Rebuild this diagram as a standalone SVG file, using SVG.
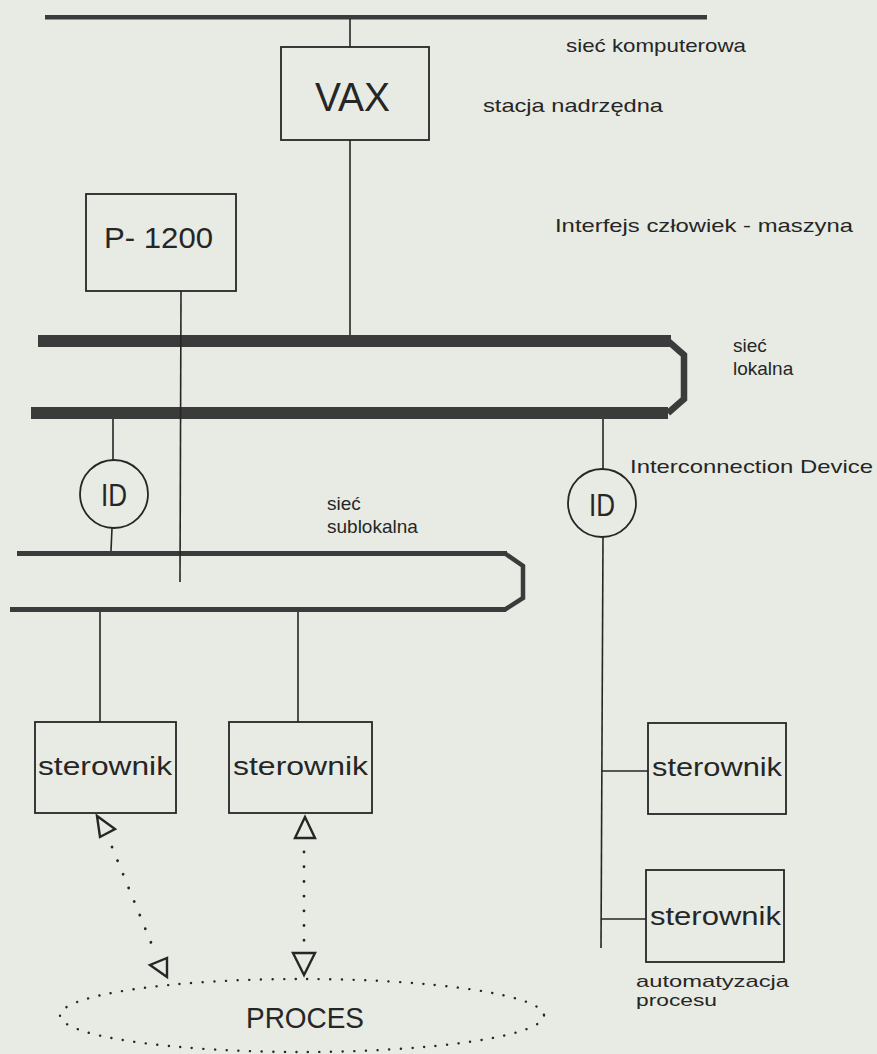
<svg xmlns="http://www.w3.org/2000/svg" width="877" height="1054" viewBox="0 0 877 1054">
<style>
.bg{fill:#e7ebe3}
.box{fill:none;stroke:#262626;stroke-width:1.8}
.ln{fill:none;stroke:#262626;stroke-width:1.6}
.bus{fill:#3b3b3b}
.side{fill:none;stroke:#3b3b3b;stroke-linejoin:miter}
.dot{fill:none;stroke:#262626;stroke-width:2.8;stroke-linecap:round;stroke-dasharray:0.1 14.6}
.edot{fill:none;stroke:#262626;stroke-width:2.4;stroke-linecap:round;stroke-dasharray:0.1 11.5}
.tri{fill:none;stroke:#262626;stroke-width:2.4;stroke-linejoin:miter}
text{font-family:"Liberation Sans",Arial,sans-serif;fill:#262626}
.lbl{font-size:19px}
.big{font-size:25px}
</style>
<rect class="bg" x="0" y="0" width="877" height="1054"/>

<g id="connectors">
  <rect class="bus" x="45" y="15" width="662" height="4.5"/>
  <rect class="bus" x="38" y="335" width="633" height="12"/>
  <rect class="bus" x="31" y="407" width="637" height="12"/>
  <path class="side" stroke-width="6.5" d="M668 341 L684 355 L684 399 L668 413"/>
  <rect class="bus" x="17" y="551" width="490" height="5"/>
  <rect class="bus" x="10" y="607" width="496" height="5"/>
  <path class="side" stroke-width="4.5" d="M505 553.5 L523 566 L523 598 L505 609.5"/>
  <line class="ln" x1="350" y1="19" x2="350" y2="47"/>
  <line class="ln" x1="350" y1="140" x2="350" y2="335"/>
  <line class="ln" x1="181" y1="291" x2="180" y2="582"/>
  <line class="ln" x1="113" y1="419" x2="113" y2="460"/>
  <line class="ln" x1="112" y1="528" x2="111" y2="551"/>
  <line class="ln" x1="603" y1="419" x2="603" y2="469"/>
  <line class="ln" x1="603" y1="537" x2="601" y2="948"/>
  <line class="ln" x1="602" y1="771" x2="648" y2="771"/>
  <line class="ln" x1="601" y1="919" x2="646" y2="919"/>
  <line class="ln" x1="100" y1="612" x2="100" y2="722"/>
  <line class="ln" x1="298" y1="612" x2="298" y2="722"/>
  <line class="dot" x1="112" y1="847" x2="154" y2="950"/>
  <line class="dot" x1="304" y1="852" x2="304" y2="942"/>
  <polygon class="tri" points="97,816 100,837 115,829"/>
  <polygon class="tri" points="167,977 150,965 167,958"/>
  <polygon class="tri" points="305,817 295,838 315,838"/>
  <polygon class="tri" points="304,975 293,953 315,953"/>
</g>

<g id="label-siec-komputerowa"><text class="lbl" x="566" y="52" textLength="180" lengthAdjust="spacingAndGlyphs">sieć komputerowa</text></g>

<g id="vax">
  <rect class="box" x="281" y="47" width="148" height="93"/>
  <text x="315" y="111" font-size="40" textLength="75" lengthAdjust="spacingAndGlyphs">VAX</text>
</g>
<g id="label-stacja"><text class="lbl" x="483" y="112" textLength="180" lengthAdjust="spacingAndGlyphs">stacja nadrzędna</text></g>

<g id="p1200">
  <rect class="box" x="86" y="194" width="150" height="97"/>
  <text x="104" y="248" font-size="30" textLength="109" lengthAdjust="spacingAndGlyphs">P-  1200</text>
</g>
<g id="label-interfejs"><text class="lbl" x="555" y="232" textLength="298" lengthAdjust="spacingAndGlyphs">Interfejs  człowiek - maszyna</text></g>

<g id="label-siec-lokalna">
  <text class="lbl" x="733" y="352">sieć</text>
  <text class="lbl" x="733" y="375">lokalna</text>
</g>

<g id="id-left">
  <circle class="box" cx="114" cy="494" r="34"/>
  <text x="101" y="506" font-size="31" textLength="26" lengthAdjust="spacingAndGlyphs">ID</text>
</g>
<g id="id-right">
  <circle class="box" cx="602" cy="503" r="34"/>
  <text x="589" y="516" font-size="31" textLength="26" lengthAdjust="spacingAndGlyphs">ID</text>
</g>
<g id="label-interconnection"><text class="lbl" x="630" y="473" textLength="243" lengthAdjust="spacingAndGlyphs">Interconnection  Device</text></g>

<g id="label-siec-sublokalna">
  <text class="lbl" x="327" y="510">sieć</text>
  <text class="lbl" x="327" y="533">sublokalna</text>
</g>

<g id="sterownik1">
  <rect class="box" x="35" y="722" width="141" height="91"/>
  <text class="big" x="38" y="775" textLength="134" lengthAdjust="spacingAndGlyphs">sterownik</text>
</g>
<g id="sterownik2">
  <rect class="box" x="229" y="722" width="143" height="91"/>
  <text class="big" x="233" y="775" textLength="135" lengthAdjust="spacingAndGlyphs">sterownik</text>
</g>
<g id="sterownik3">
  <rect class="box" x="648" y="723" width="138" height="91"/>
  <text class="big" x="652" y="776" textLength="130" lengthAdjust="spacingAndGlyphs">sterownik</text>
</g>
<g id="sterownik4">
  <rect class="box" x="646" y="870" width="138" height="92"/>
  <text class="big" x="650" y="925" textLength="131" lengthAdjust="spacingAndGlyphs">sterownik</text>
</g>
<g id="label-automatyzacja">
  <text x="636" y="987" font-size="17" textLength="153" lengthAdjust="spacingAndGlyphs">automatyzacja</text>
  <text x="636" y="1006" font-size="17" textLength="81" lengthAdjust="spacingAndGlyphs">procesu</text>
</g>

<g id="proces">
  <ellipse class="edot" cx="302" cy="1015.5" rx="242" ry="36.5"/>
  <text x="246" y="1028" font-size="29" textLength="118" lengthAdjust="spacingAndGlyphs">PROCES</text>
</g>
</svg>
